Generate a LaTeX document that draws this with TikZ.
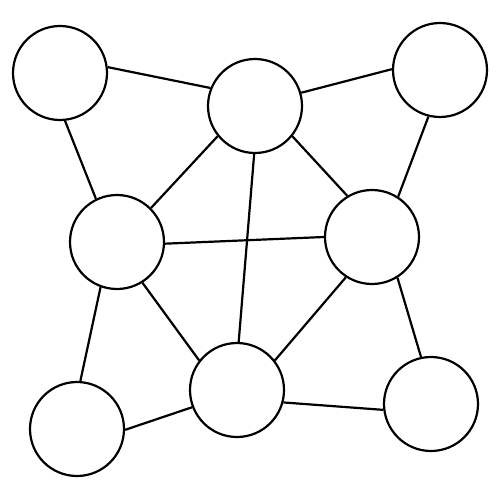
\documentclass[tikz,border=0pt]{standalone}
\begin{document}
\begin{tikzpicture}[x=1pt,y=-1pt,
  vert/.style={circle,draw=black,line width=2.2pt,minimum size=94pt,inner sep=0pt,fill=white},
  edge/.style={draw=black,line width=2.2pt}]
\useasboundingbox (0,0) rectangle (500,500);
\node[vert] (tl) at (60,73) {};
\node[vert] (tm) at (255,106) {};
\node[vert] (tr) at (440,70) {};
\node[vert] (ml) at (117,242) {};
\node[vert] (mr) at (372,237) {};
\node[vert] (bm) at (237,390) {};
\node[vert] (bl) at (77,429) {};
\node[vert] (br) at (431,404) {};
\path[edge] (tl.7) -- (tm.158);
\path[edge] (tm.16) -- (tr.179);
\path[edge] (tl.-84) -- (ml.116);
\path[edge] (tr.-104) -- (mr.57);
\path[edge] (tm.-141) -- (ml.45);
\path[edge] (tm.-39) -- (mr.121);
\path[edge] (tm.-91) -- (bm.88);
\path[edge] (ml.-2) -- (mr.180);
\path[edge] (ml.-58) -- (bm.142);
\path[edge] (mr.-123) -- (bm.38);
\path[edge] (ml.-110) -- (bl.86);
\path[edge] (mr.-58) -- (br.102);
\path[edge] (bl.-1) -- (bm.-159);
\path[edge] (bm.-15) -- (br.187);
\end{tikzpicture}
\end{document}
